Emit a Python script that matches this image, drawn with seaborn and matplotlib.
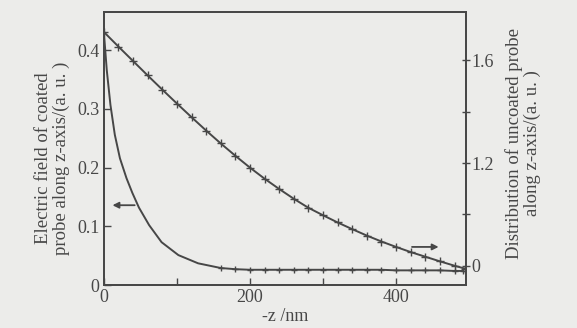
import numpy as np
import pandas as pd
import matplotlib.pyplot as plt
import seaborn as sns

# coated probe (left axis)
coated_z = [0, 4, 9, 15, 22, 31, 39, 48, 62, 79, 102, 129, 160,
            180, 200, 220, 240, 260, 280, 300, 320, 340, 360, 380, 400, 420, 440, 460, 480, 492]
coated_e = [0.431, 0.366, 0.307, 0.256, 0.216, 0.182, 0.157, 0.132, 0.102, 0.073, 0.051, 0.037, 0.029,
            0.027, 0.026, 0.026, 0.026, 0.026, 0.026, 0.026, 0.026, 0.026, 0.026, 0.026, 0.025,
            0.025, 0.025, 0.025, 0.024, 0.024]

# uncoated probe (right axis)
uncoated_z = [0, 20, 40, 60, 80, 100, 120, 140, 160, 180, 200, 220, 240, 260, 280, 300,
              320, 340, 360, 380, 400, 420, 440, 460, 480, 494]
uncoated_d = [1.709, 1.652, 1.596, 1.540, 1.485, 1.431, 1.378, 1.326, 1.276, 1.228, 1.182,
              1.139, 1.099, 1.061, 1.026, 0.997, 0.969, 0.943, 0.918, 0.895, 0.874, 0.854,
              0.836, 0.818, 0.801, 0.790]

left_ticks = [0, 0.1, 0.2, 0.3, 0.4]
left_labels = ['0', '0.1', '0.2', '0.3', '0.4']
right_ticks = [0.8, 1.0, 1.2, 1.4, 1.6]
right_labels = ['0', '', '1.2', '', '1.6']
x_ticks = [0, 100, 200, 300, 400]
x_labels = ['0', '', '200', '', '400']

df_c = pd.DataFrame({'z': coated_z, 'e': coated_e})
df_u = pd.DataFrame({'z': uncoated_z, 'd': uncoated_d})

sns.set_style('ticks')
plt.rcParams['font.family'] = ['Liberation Serif', 'DejaVu Serif']
paper = '#ececea'
ink = '#474747'

fig = plt.figure(figsize=(5.77, 3.28), dpi=100, facecolor=paper)
ax = fig.add_axes([0.180, 0.131, 0.628, 0.832])
ax.set_facecolor(paper)
ax2 = ax.twinx()

mark_idx = [i for i, z in enumerate(coated_z) if z >= 160]
sns.lineplot(data=df_c, x='z', y='e', ax=ax, color=ink, linewidth=1.4,
             marker='+', markersize=5, markeredgewidth=1.0, markeredgecolor=ink,
             markevery=mark_idx)
sns.lineplot(data=df_u, x='z', y='d', ax=ax2, color=ink, linewidth=1.4,
             marker='+', markersize=6, markeredgewidth=1.0, markeredgecolor=ink)

ax.set_xlim(0, 496)
ax.set_ylim(0, 0.465)
ax2.set_ylim(0.726, 1.786)

ax.set_xticks(x_ticks)
ax.set_xticklabels(x_labels)
ax.set_yticks(left_ticks)
ax.set_yticklabels(left_labels)
ax2.set_yticks(right_ticks)
ax2.set_yticklabels(right_labels)

ax.tick_params(axis='both', direction='in', length=5, width=1.0, colors=ink, labelsize=13, pad=3)
ax2.tick_params(axis='y', direction='inout', length=6, width=1.0, colors=ink, labelsize=13, pad=1)

for a in (ax, ax2):
    for s in a.spines.values():
        s.set_color(ink)
        s.set_linewidth(1.3)
        s.set_visible(True)

ax.set_xlabel('-z /nm', fontsize=13, color=ink)
ax.xaxis.set_label_coords(0.5, -0.085)
ax.set_ylabel('Electric field of coated\nprobe along z-axis/(a. u. )', fontsize=13.5,
              color=ink, linespacing=1.05)
ax.yaxis.set_label_coords(-0.094, 0.465)
ax2.set_ylabel('Distribution of uncoated probe\nalong z-axis/(a. u. )', fontsize=13.5,
               color=ink, linespacing=1.05)
ax2.yaxis.set_label_coords(1.108, 0.52)

# arrows marking which axis each curve belongs to
ax.annotate('', xy=(8, 0.136), xytext=(46, 0.136),
            arrowprops=dict(arrowstyle='-|>', color=ink, lw=1.3, mutation_scale=9))
ax2.annotate('', xy=(462, 0.874), xytext=(418, 0.874),
             arrowprops=dict(arrowstyle='-|>', color=ink, lw=1.3, mutation_scale=9))

fig.savefig('out.png', dpi=100, facecolor=paper)
